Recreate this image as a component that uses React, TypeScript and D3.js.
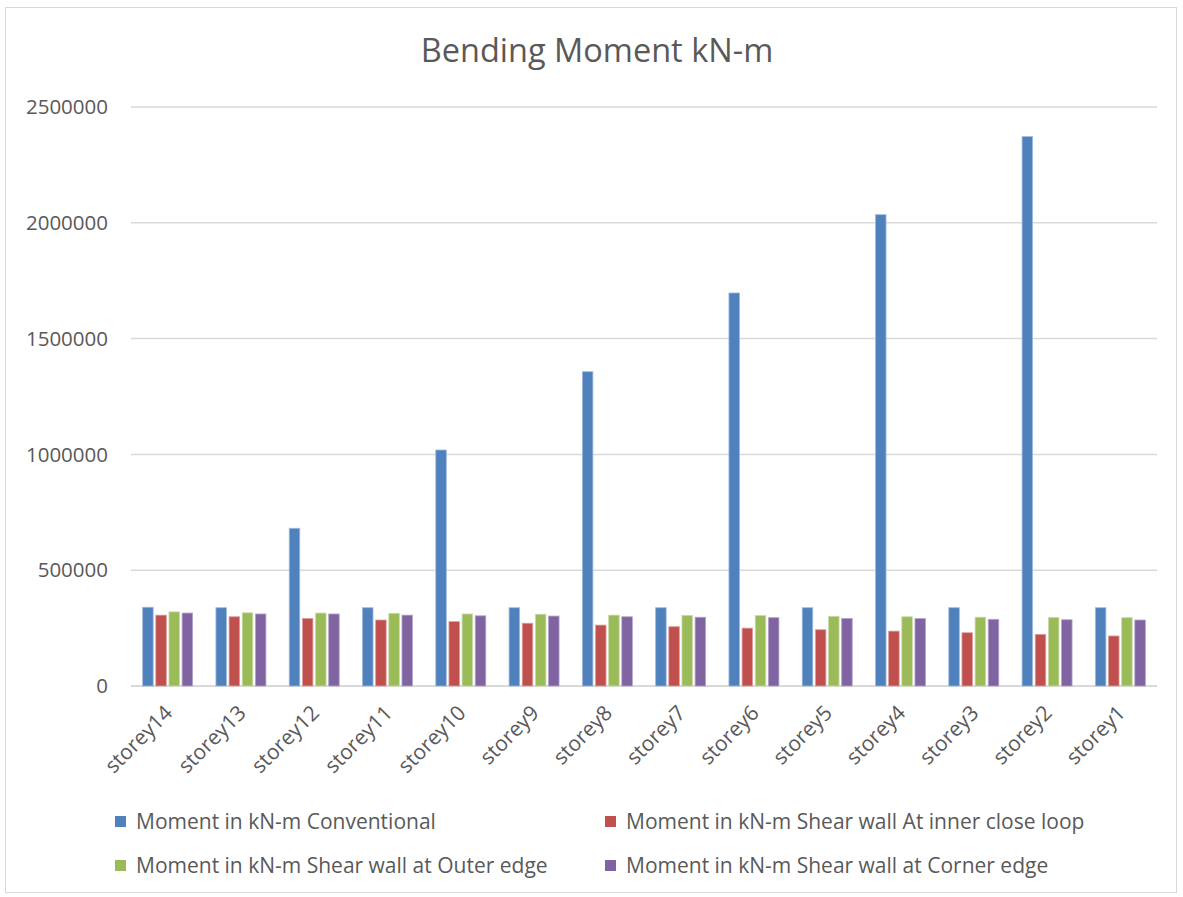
import React from "react";
import * as d3 from "d3";

const storeys = [
  "storey14", "storey13", "storey12", "storey11", "storey10", "storey9", "storey8",
  "storey7", "storey6", "storey5", "storey4", "storey3", "storey2", "storey1",
];

const seriesNames = [
  "Moment in kN-m Conventional",
  "Moment in kN-m Shear wall At inner close loop",
  "Moment in kN-m Shear wall at Outer edge",
  "Moment in kN-m Shear wall at Corner edge",
];

const conventional = [
  340000, 338000, 681000, 338000, 1019000, 338000, 1357000,
  338000, 1697000, 338000, 2035000, 338000, 2372000, 338000,
];
const innerLoop = [
  306000, 299000, 292000, 285000, 278000, 271000, 263000,
  256000, 250000, 243000, 237000, 230000, 223000, 216000,
];
const outerEdge = [
  320000, 316000, 315000, 314000, 311000, 310000, 306000,
  305000, 304000, 301000, 299000, 297000, 296000, 295000,
];
const cornerEdge = [
  315000, 311000, 311000, 306000, 303000, 302000, 299000,
  297000, 295000, 292000, 291000, 288000, 286000, 285000,
];

const yTicks = [0, 500000, 1000000, 1500000, 2000000, 2500000];

const colors = ["#4F81BD", "#C0504D", "#9BBB59", "#8064A2"];
const strokes = ["#9fb9dc", "#dca09e", "#c8dbaa", "#b4a3ca"];

const W = 1183;
const H = 897;
const margin = { top: 107, right: 26, bottom: 211, left: 131 };

export default function App() {
  const values = [conventional, innerLoop, outerEdge, cornerEdge];

  const x = d3
    .scaleBand()
    .domain(storeys)
    .range([margin.left, W - margin.right])
    .paddingInner(0.318)
    .paddingOuter(0.159);

  const xs = d3
    .scaleBand()
    .domain(seriesNames)
    .range([0, x.bandwidth()])
    .paddingInner(0.2);

  const y = d3
    .scaleLinear()
    .domain([0, 2500000])
    .range([H - margin.bottom, margin.top]);

  const font = "'Open Sans', 'DejaVu Sans', sans-serif";
  const textColor = "#595959";

  const legendPos = [
    { x: 115, y: 822 },
    { x: 605, y: 822 },
    { x: 115, y: 866 },
    { x: 605, y: 866 },
  ];

  return (
    <svg
      width={W}
      height={H}
      style={{ position: "absolute", left: 0, top: 0, background: "#fff" }}
      fontFamily={font}
    >
      <rect x={5.5} y={7.5} width={1171} height={885} fill="#fff" stroke="#d9d9d9" />
      <text x={597} y={62} textAnchor="middle" fontSize={32.5} fill={textColor}>
        Bending Moment kN-m
      </text>

      {/* grid + y labels */}
      {yTicks.map((t) => (
        <g key={t}>
          <line
            x1={margin.left}
            x2={W - margin.right}
            y1={y(t)}
            y2={y(t)}
            stroke="#d9d9d9"
            strokeWidth={t === 0 ? 2 : 1.5}
          />
          <text
            x={108}
            y={y(t)}
            dy="0.35em"
            textAnchor="end"
            fontSize={20.5}
            fill={textColor}
          >
            {t}
          </text>
        </g>
      ))}

      {/* bars */}
      {storeys.map((s, i) => (
        <g key={s} transform={`translate(${x(s)},0)`}>
          {seriesNames.map((name, j) => (
            <rect
              key={name}
              x={xs(name)}
              y={y(values[j][i])}
              width={xs.bandwidth()}
              height={y(0) - y(values[j][i])}
              fill={colors[j]}
              stroke={strokes[j]}
              strokeWidth={0.8}
            />
          ))}
        </g>
      ))}

      {/* x labels */}
      {storeys.map((s) => (
        <text
          key={s}
          transform={`translate(${(x(s) as number) + x.bandwidth() / 2 + 1},${y(0) + 23}) rotate(-45)`}
          textAnchor="end"
          dy="0.35em"
          fontSize={21}
          fill={textColor}
        >
          {s}
        </text>
      ))}

      {/* legend */}
      {seriesNames.map((name, j) => (
        <g key={name} transform={`translate(${legendPos[j].x},${legendPos[j].y})`}>
          <rect x={0} y={-6} width={11} height={11} fill={colors[j]} />
          <text x={21} y={0} dy="0.35em" fontSize={21} fill={textColor}>
            {name}
          </text>
        </g>
      ))}
    </svg>
  );
}
